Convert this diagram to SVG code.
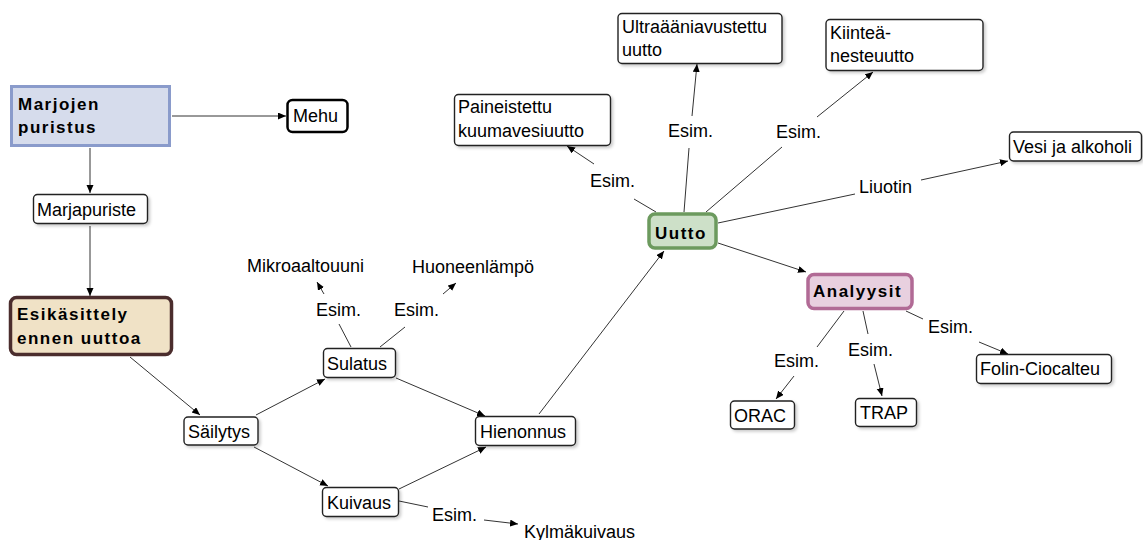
<svg xmlns="http://www.w3.org/2000/svg" width="1143" height="540" viewBox="0 0 1143 540">
<style>
text{font-family:"Liberation Sans",Arial,sans-serif;font-size:18px;fill:#000}
.b{font-weight:bold;font-size:17px;letter-spacing:1.5px}
.n{fill:#fff;stroke:#222;stroke-width:1.4;filter:url(#sh)}
.c line{stroke:#333;stroke-width:1}
.c line.a{marker-end:url(#ah)}
</style>
<defs>
<marker id="ah" markerUnits="userSpaceOnUse" markerWidth="9" markerHeight="8" refX="8" refY="3.5" orient="auto">
<path d="M0,0 L8,3.5 L0,7 z" fill="#000"/>
</marker>
<filter id="sh" x="-10%" y="-10%" width="130%" height="140%">
<feDropShadow dx="2" dy="2" stdDeviation="1.5" flood-color="#000" flood-opacity="0.2"/>
</filter>
</defs>
<rect width="1143" height="540" fill="#fff"/>
<g class="c">
<line class="a" x1="172" y1="116" x2="286" y2="116"/>
<line class="a" x1="90" y1="148" x2="90" y2="193"/>
<line class="a" x1="90" y1="226" x2="90" y2="296"/>
<line class="a" x1="130" y1="357" x2="200" y2="415"/>
<line class="a" x1="256" y1="415" x2="325" y2="379"/>
<line class="a" x1="254" y1="447" x2="328" y2="486"/>
<line class="a" x1="396" y1="378" x2="485" y2="416"/>
<line class="a" x1="399" y1="489" x2="486" y2="447"/>
<line class="a" x1="539" y1="414" x2="664" y2="251"/>
<line x1="351" y1="347" x2="339" y2="324"/>
<line class="a" x1="324" y1="294" x2="317" y2="282"/>
<line x1="380" y1="347" x2="405" y2="327"/>
<line class="a" x1="443" y1="294" x2="456" y2="283"/>
<line x1="399" y1="501" x2="428" y2="507"/>
<line class="a" x1="484" y1="520" x2="518" y2="524"/>
<line x1="656" y1="212" x2="634" y2="199"/>
<line class="a" x1="594" y1="164" x2="567" y2="146"/>
<line x1="684" y1="212" x2="689" y2="148"/>
<line class="a" x1="692" y1="116" x2="697" y2="64"/>
<line x1="706" y1="212" x2="782" y2="147"/>
<line class="a" x1="817" y1="117" x2="873" y2="72"/>
<line x1="718" y1="223" x2="855" y2="194"/>
<line class="a" x1="921" y1="180" x2="1008" y2="161"/>
<line class="a" x1="718" y1="243" x2="806" y2="272"/>
<line x1="844" y1="311" x2="817" y2="347"/>
<line class="a" x1="794" y1="376" x2="776" y2="399"/>
<line x1="863" y1="311" x2="868" y2="334"/>
<line class="a" x1="874" y1="364" x2="882" y2="396"/>
<line x1="906" y1="311" x2="923" y2="319"/>
<line class="a" x1="979" y1="342" x2="1008" y2="354"/>
<text x="316" y="316">Esim.</text>
<text x="394" y="316">Esim.</text>
<text x="432" y="521">Esim.</text>
<text x="590" y="187">Esim.</text>
<text x="668" y="137">Esim.</text>
<text x="776" y="138">Esim.</text>
<text x="859" y="193">Liuotin</text>
<text x="774" y="367">Esim.</text>
<text x="848" y="356">Esim.</text>
<text x="928" y="333">Esim.</text>
</g>
<g id="marjojen-puristus"><rect x="11.5" y="86.5" width="158" height="59" fill="#d6dcec" stroke="#8a9bcb" stroke-width="3"/><text class="b" x="18" y="110">Marjojen</text><text class="b" x="18" y="133">puristus</text></g>
<g id="mehu"><rect x="287.5" y="100" width="60" height="32" rx="5" fill="#fff" stroke="#000" stroke-width="2.5"/><text x="293" y="122">Mehu</text></g>
<g id="marjapuriste"><rect class="n" x="33.5" y="194.5" width="114" height="29" rx="4"/><text x="37" y="216">Marjapuriste</text></g>
<g id="esikasittely"><rect x="10.5" y="297.5" width="161" height="57" rx="6" fill="#f0e2c6" stroke="#4b2d2d" stroke-width="3.5"/><text class="b" x="17" y="320">Esikäsittely</text><text class="b" x="17" y="344">ennen uuttoa</text></g>
<g id="sailytys"><rect class="n" x="184" y="417" width="74" height="28" rx="4"/><text x="188" y="438">Säilytys</text></g>
<g id="sulatus"><rect class="n" x="323.5" y="348.5" width="72" height="29" rx="4"/><text x="327" y="370">Sulatus</text></g>
<g id="kuivaus"><rect class="n" x="322.5" y="487.5" width="76" height="29" rx="4"/><text x="327" y="509">Kuivaus</text></g>
<g id="hienonnus"><rect class="n" x="475.5" y="416.5" width="100" height="29" rx="4"/><text x="480" y="438">Hienonnus</text></g>
<g id="mikroaaltouuni"><text x="247" y="272">Mikroaaltouuni</text></g>
<g id="huoneenlampo"><text x="412" y="273">Huoneenlämpö</text></g>
<g id="kylmakuivaus"><text x="524" y="538">Kylmäkuivaus</text></g>
<g id="uutto"><rect x="649" y="214" width="67" height="34" rx="6" fill="#cde0c8" stroke="#6c9a5e" stroke-width="3.5"/><text class="b" x="655" y="239">Uutto</text></g>
<g id="paineistettu"><rect class="n" x="454.5" y="94.5" width="156" height="51" rx="4"/><text x="458" y="113">Paineistettu</text><text x="458" y="137">kuumavesiuutto</text></g>
<g id="ultra"><rect class="n" x="618" y="13.5" width="164" height="50" rx="4"/><text x="622" y="33">Ultraääniavustettu</text><text x="622" y="56">uutto</text></g>
<g id="kiintea"><rect class="n" x="826" y="19.5" width="157" height="51" rx="4"/><text x="830" y="39">Kiinteä-</text><text x="830" y="62">nesteuutto</text></g>
<g id="vesi"><rect class="n" x="1009.5" y="132" width="132" height="29" rx="4"/><text x="1013" y="153">Vesi ja alkoholi</text></g>
<g id="analyysit"><rect x="808" y="274.5" width="104" height="34" rx="6" fill="#e8d0df" stroke="#b16a95" stroke-width="3.5"/><text class="b" x="813" y="297">Analyysit</text></g>
<g id="orac"><rect class="n" x="730.5" y="401" width="64" height="28" rx="4"/><text x="734" y="422">ORAC</text></g>
<g id="trap"><rect class="n" x="855.5" y="398.5" width="61" height="28" rx="4"/><text x="860" y="419">TRAP</text></g>
<g id="folin"><rect class="n" x="976.5" y="354.5" width="135" height="29" rx="4"/><text x="980" y="375">Folin-Ciocalteu</text></g>
</svg>
